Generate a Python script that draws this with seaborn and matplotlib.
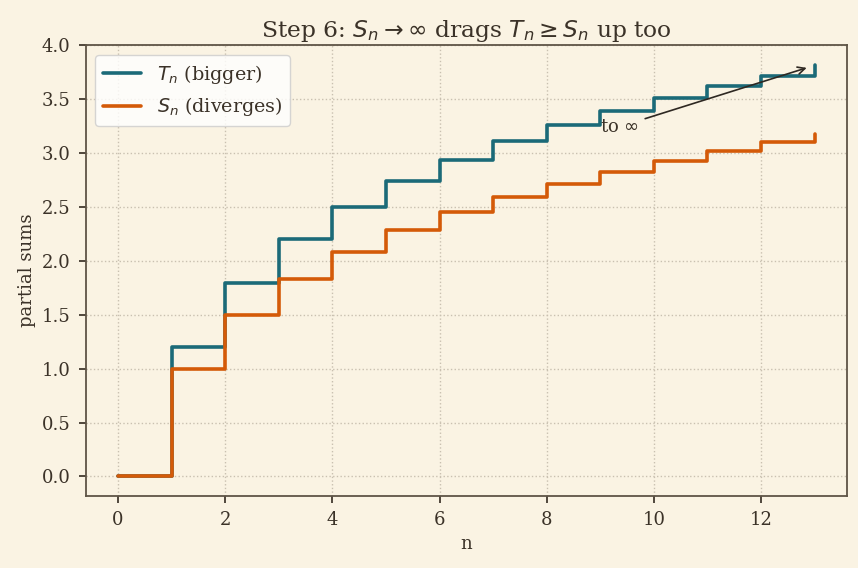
import numpy as np
import pandas as pd
import matplotlib
matplotlib.use("Agg")
import matplotlib.pyplot as plt
import seaborn as sns

# partial sums
n_vals = list(range(14))
s_vals = [0.0, 1.0, 1.5, 1.833, 2.083, 2.283, 2.45, 2.593, 2.718, 2.829, 2.929, 3.02, 3.103, 3.18]
t_vals = [0.0, 1.2, 1.8, 2.2, 2.5, 2.74, 2.94, 3.11, 3.26, 3.39, 3.51, 3.62, 3.72, 3.82]

bg = "#faf3e3"
ink = "#3b3228"
teal = "#1b6a78"
orange = "#d45a08"

sns.set_theme(style="whitegrid", rc={
    "axes.facecolor": bg,
    "figure.facecolor": bg,
    "axes.edgecolor": "#5e5446",
    "axes.linewidth": 1.3,
    "grid.color": "#c9c0b0",
    "grid.linestyle": ":",
    "grid.linewidth": 1.0,
    "text.color": ink,
    "axes.labelcolor": ink,
    "xtick.color": ink,
    "ytick.color": ink,
    "xtick.bottom": True,
    "ytick.left": True,
    "xtick.major.size": 5,
    "ytick.major.size": 5,
    "xtick.major.pad": 6,
    "ytick.major.pad": 6,
})
plt.rcParams["font.family"] = ["DejaVu Serif"]
plt.rcParams["mathtext.fontset"] = "dejavusans"

df = pd.DataFrame({"n": n_vals, "S": s_vals, "T": t_vals})

fig, ax = plt.subplots(figsize=(8.58, 5.68), dpi=100)

sns.lineplot(data=df, x="n", y="T", ax=ax, color=teal, linewidth=2.6,
             drawstyle="steps-post", label=r"$T_n$ (bigger)")
sns.lineplot(data=df, x="n", y="S", ax=ax, color=orange, linewidth=2.6,
             drawstyle="steps-post", label=r"$S_n$ (diverges)")

ax.annotate("to $\\infty$", xy=(12.9, 3.8), xytext=(9.0, 3.2),
            fontsize=13, color=ink,
            arrowprops=dict(arrowstyle="->", color="#2e2822", lw=1.2))

ax.set_title(r"Step 6: $S_n \to \infty$ drags $T_n \geq S_n$ up too", fontsize=16.8, color=ink)
ax.set_xlabel("n", fontsize=13)
ax.set_ylabel("partial sums", fontsize=13)
ax.tick_params(labelsize=13)
ax.set_xticks(range(0, 13, 2))
ax.set_xlim(-0.6, 13.6)
ax.set_ylim(-0.18, 4.0)
for sp in ax.spines.values():
    sp.set_visible(True)

leg = ax.legend(loc="upper left", fontsize=13.8, frameon=True, facecolor="white",
                edgecolor="#cccccc", framealpha=0.8)

fig.subplots_adjust(left=0.1, right=0.987, top=0.92, bottom=0.127)
fig.savefig("out.png", dpi=100, facecolor=bg)
